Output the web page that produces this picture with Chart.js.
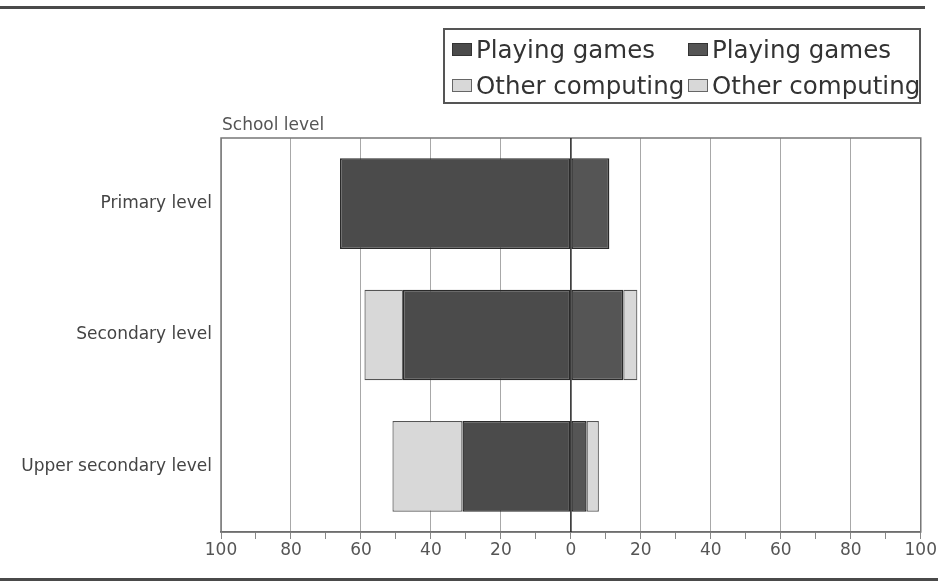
<!DOCTYPE html>
<html>
<head>
<meta charset="utf-8">
<script src="https://cdn.jsdelivr.net/npm/chart.js@4"></script>
<style>
  html, body { margin: 0; padding: 0; background: #fff; }
  #wrap { position: relative; width: 938px; height: 583px; overflow: hidden; font-family: "DejaVu Sans", sans-serif; }
  canvas { position: absolute; left: 0; top: 0; }
  .rule { position: absolute; left: 0; height: 3px; background: #4a4a4a; }
  #legend { position: absolute; left: 443px; top: 28px; width: 474px; height: 72px; border: 2px solid #555; box-sizing: content-box; }
  .li { position: absolute; font-size: 24.5px; color: #333; white-space: nowrap; line-height: 30px; }
  .sw { display: inline-block; width: 20px; height: 13px; margin-right: 4px; vertical-align: 2px; box-sizing: border-box; }
  #ylab { position: absolute; left: 222px; top: 114px; font-size: 17px; color: #555; }
</style>
</head>
<body>
<div id="wrap">
  <canvas id="c" width="938" height="583"></canvas>
  <div class="rule" style="top:6px; width:925px;"></div>
  <div class="rule" style="top:578px; width:938px;"></div>
  <div id="legend"></div>
  <div id="ylab">School level</div>
</div>
<script>
const categories = ['Primary level', 'Secondary level', 'Upper secondary level'];
const seriesNames = ['Playing games', 'Playing games', 'Other computing', 'Other computing'];
const playingLeft = [-66, -48, -31];
const playingRight = [11, 15, 4.5];
const otherLeft = [0, -11, -20];
const otherRight = [0, 4, 3.5];
const xTickValues = [-100, -80, -60, -40, -20, 0, 20, 40, 60, 80, 100];

const DARK = '#4b4b4b', DARK2 = '#555555', LIGHT = '#d8d8d8';

// HTML legend
const legendEl = document.getElementById('legend');
const legendItems = [
  { text: seriesNames[0], fill: DARK, border: '#333', x: 7, y: 5 },
  { text: seriesNames[1], fill: DARK2, border: '#333', x: 243, y: 5 },
  { text: seriesNames[2], fill: LIGHT, border: '#666', x: 7, y: 41 },
  { text: seriesNames[3], fill: LIGHT, border: '#666', x: 243, y: 41 }
];
legendItems.forEach(it => {
  const d = document.createElement('div');
  d.className = 'li';
  d.style.left = it.x + 'px';
  d.style.top = it.y + 'px';
  const s = document.createElement('span');
  s.className = 'sw';
  s.style.background = it.fill;
  s.style.border = '1.5px solid ' + it.border;
  d.appendChild(s);
  d.appendChild(document.createTextNode(it.text));
  legendEl.appendChild(d);
});

const frame = {
  id: 'frame',
  afterDatasetsDraw(chart) {
    const { ctx, chartArea: a } = chart;
    ctx.save();
    ctx.strokeStyle = '#777';
    ctx.lineWidth = 1.5;
    ctx.strokeRect(a.left, a.top, a.right - a.left, a.bottom - a.top);
    const x0 = chart.scales.x.getPixelForValue(0);
    ctx.strokeStyle = '#222';
    ctx.lineWidth = 1.5;
    ctx.beginPath();
    ctx.moveTo(x0, a.top);
    ctx.lineTo(x0, a.bottom);
    ctx.stroke();
    ctx.restore();
  }
};

new Chart(document.getElementById('c'), {
  type: 'bar',
  data: {
    labels: categories,
    datasets: [
      { label: seriesNames[0], data: playingLeft, backgroundColor: DARK, borderColor: '#2a2a2a', borderWidth: 1.5 },
      { label: seriesNames[1], data: playingRight, backgroundColor: DARK2, borderColor: '#2a2a2a', borderWidth: 1.5 },
      { label: seriesNames[2], data: otherLeft, backgroundColor: LIGHT, borderColor: '#555', borderWidth: 1.2 },
      { label: seriesNames[3], data: otherRight, backgroundColor: LIGHT, borderColor: '#555', borderWidth: 1.2 }
    ]
  },
  options: {
    indexAxis: 'y',
    responsive: false,
    animation: false,
    devicePixelRatio: 1,
    layout: { padding: { top: 138, right: 16, left: 0, bottom: 0 } },
    datasets: { bar: { categoryPercentage: 1, barPercentage: 0.69, borderSkipped: false } },
    plugins: { legend: { display: false }, tooltip: { enabled: false } },
    scales: {
      x: {
        stacked: true,
        min: -100,
        max: 100,
        afterBuildTicks(scale) {
          const t = [];
          for (let v = -100; v <= 100; v += 10) t.push({ value: v });
          scale.ticks = t;
        },
        afterFit(scale) { scale.height = 51; },
        grid: {
          color: c => (c.tick && c.tick.value % 20 === 0 && c.tick.value !== 0) ? '#a8a8a8' : 'rgba(0,0,0,0)',
          tickColor: '#888',
          tickLength: 7,
          lineWidth: 1
        },
        border: { display: true, color: '#555', width: 1.5 },
        ticks: {
          autoSkip: false,
          maxRotation: 0,
          padding: 1,
          color: '#555',
          font: { family: 'DejaVu Sans', size: 17 },
          callback: v => xTickValues.includes(v) ? String(Math.abs(v)) : ''
        }
      },
      y: {
        stacked: true,
        afterFit(scale) { scale.width = 221; },
        grid: { display: false },
        border: { display: false },
        ticks: {
          padding: 1,
          color: '#444',
          font: { family: 'DejaVu Sans', size: 17 }
        }
      }
    }
  },
  plugins: [frame]
});
</script>
</body>
</html>
